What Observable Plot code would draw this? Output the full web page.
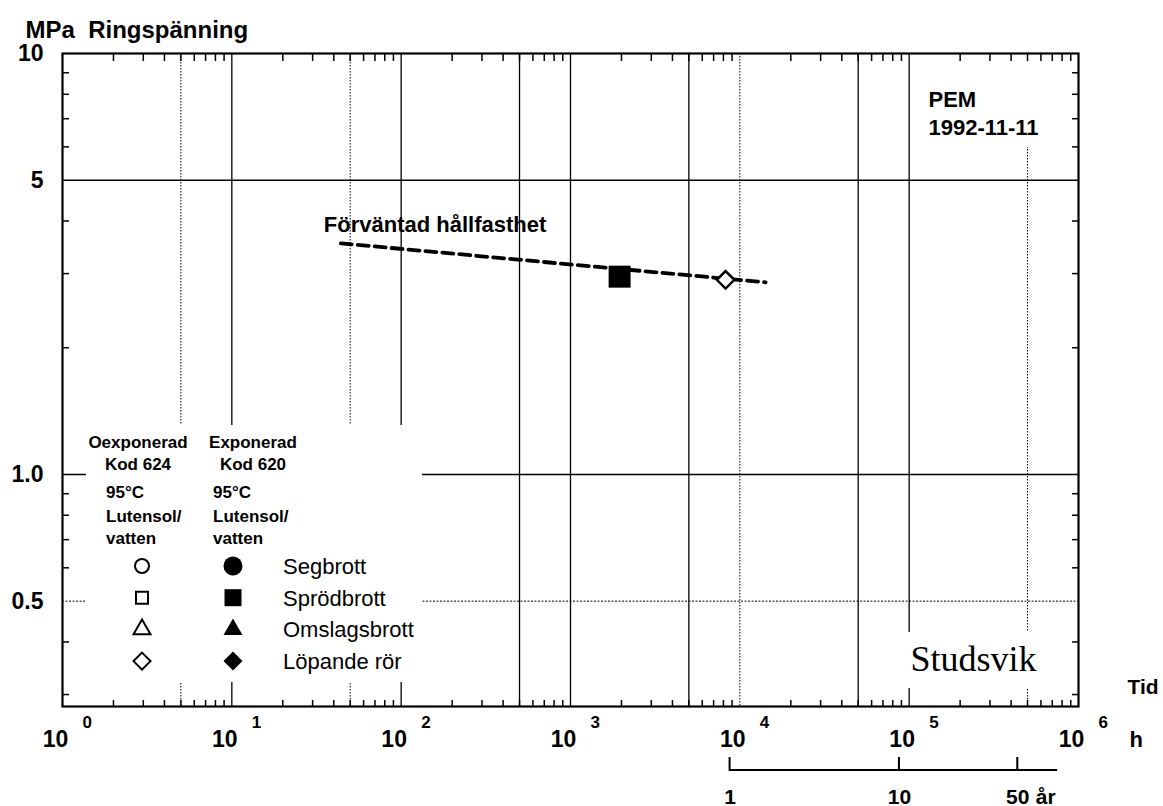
<!DOCTYPE html>
<html>
<head>
<meta charset="utf-8">
<script src="https://cdn.jsdelivr.net/npm/d3@7"></script>
<script src="https://cdn.jsdelivr.net/npm/@observablehq/plot@0.6"></script>
<style>
  html, body { margin: 0; padding: 0; background: #fff; }
  #chart svg { display: block; }
</style>
</head>
<body>
<div id="chart"></div>
<script>
// ---------- data ----------
const hoursPerYear = 8760;
// Förväntad hållfasthet (expected strength)
const expectedHours = [44, 14200];
const expectedMPa = [3.54, 2.86];
// measured test points
const pointHours = [1950, 8240];
const pointMPa = [2.95, 2.90];
const pointGroup = ["Exponerad", "Oexponerad"];
const pointFailure = ["Sprödbrott", "Löpande rör"];

// axes / ticks
const xDecades = [1, 10, 100, 1e3, 1e4, 1e5, 1e6];
const xExponents = ["0", "1", "2", "3", "4", "5", "6"];
const xMultiples = [2, 3, 4, 5, 6, 7, 8, 9];
const yTicks = [10, 5, 1, 0.5];
const yTickLabels = ["10", "5", "1.0", "0.5"];
const yMinor = [0.3, 0.4, 0.6, 0.7, 0.8, 0.9, 2, 3, 4, 6, 7, 8, 9];
const gridSolidX = [10, 100, 500, 1000, 5000, 50000, 100000];
const gridDottedX = [5, 50, 10000, 500000];
const gridSolidY = [5, 1];
const gridDottedY = [0.5];
const yearTicks = [1, 10, 50];
const yearAxisEnd = 86; // years, end of the year bar

// texts
const titleText = "MPa  Ringspänning";
const expectedLabel = "Förväntad hållfasthet";
const stampText = "PEM\n1992-11-11";
const logoText = "Studsvik";
const legendHeadOpen = ["Oexponerad", "Kod 624", "95°C", "Lutensol/", "vatten"];
const legendHeadFilled = ["Exponerad", "Kod 620", "95°C", "Lutensol/", "vatten"];
const legendFailures = ["Segbrott", "Sprödbrott", "Omslagsbrott", "Löpande rör"];
const legendSymbols = ["circle", "square", "triangle", "diamond"];

// ---------- derived ----------
const xMinor = xDecades.slice(0, -1).flatMap(d => xMultiples.map(m => m * d));
const expected = expectedHours.map((h, i) => ({h, p: expectedMPa[i]}));
const points = pointHours.map((h, i) => ({h, p: pointMPa[i], group: pointGroup[i], failure: pointFailure[i]}));

const FONT = "Liberation Sans, Arial, Helvetica, sans-serif";
const SERIF = "Liberation Serif, Times New Roman, serif";

// white masks behind legend / stamp / logo (cover grid lines)
function masks(index, scales, values, dim) {
  const L = dim.marginLeft, R = dim.width - dim.marginRight, T = dim.marginTop, B = dim.height - dim.marginBottom;
  const g = d3.create("svg:g").attr("fill", "white").attr("stroke", "none");
  g.append("rect").attr("x", L + 24).attr("y", B - 281).attr("width", 336).attr("height", 257);
  g.append("rect").attr("x", R - 163).attr("y", T + 2).attr("width", 153).attr("height", 92);
  g.append("rect").attr("x", R - 208).attr("y", B - 74).attr("width", 198).attr("height", 56);
  return g.node();
}

const symbolTypes = {circle: d3.symbolCircle, square: d3.symbolSquare, triangle: d3.symbolTriangle, diamond: d3.symbolDiamond2};
const openSizes = {circle: 154, square: 144, triangle: 125, diamond: 184};
const filledSizes = {circle: 283, square: 289, triangle: 156, diamond: 230};

function legend(index, scales, values, dim) {
  const L = dim.marginLeft, B = dim.height - dim.marginBottom;
  const g = d3.create("svg:g").attr("font-family", FONT).attr("fill", "black").attr("text-anchor", "start");
  const head = g.append("g").attr("font-size", 17).attr("font-weight", "bold");
  const cols = [
    {lines: legendHeadOpen, cx: L + 76, sx: L + 44},
    {lines: legendHeadFilled, cx: L + 191, sx: L + 151}
  ];
  const baselines = [B - 258, B - 236, B - 208, B - 184, B - 162];
  cols.forEach(c => {
    c.lines.forEach((t, i) => {
      head.append("text")
        .attr("x", i < 2 ? c.cx : c.sx)
        .attr("y", baselines[i])
        .attr("text-anchor", i < 2 ? "middle" : "start")
        .text(t);
    });
  });
  const openX = L + 80, filledX = L + 171, labelX = L + 221;
  legendFailures.forEach((f, i) => {
    const cy = B - 140 + i * 31.7;
    const s = legendSymbols[i];
    g.append("path")
      .attr("transform", `translate(${openX},${cy})`)
      .attr("d", d3.symbol(symbolTypes[s], openSizes[s])())
      .attr("fill", "white").attr("stroke", "black").attr("stroke-width", 2);
    g.append("path")
      .attr("transform", `translate(${filledX},${cy})`)
      .attr("d", d3.symbol(symbolTypes[s], filledSizes[s])())
      .attr("fill", "black");
    g.append("text")
      .attr("x", labelX).attr("y", cy + 8)
      .attr("text-anchor", "start")
      .attr("font-size", 22)
      .text(f);
  });
  return g.node();
}

function yearAxis(index, scales, values, dim) {
  const B = dim.height - dim.marginBottom;
  const yb = B + 64;
  const xs = yearTicks.map(y => scales.x(y * hoursPerYear));
  const xe = scales.x(yearAxisEnd * hoursPerYear);
  const g = d3.create("svg:g").attr("stroke", "black").attr("stroke-width", 2).attr("fill", "none");
  g.append("path").attr("d", `M${xs[0]},${yb - 13}V${yb}H${xe}`);
  xs.slice(1).forEach(x => g.append("path").attr("d", `M${x},${yb}V${yb - 13}`));
  return g.node();
}

const plot = Plot.plot({
  width: 1163,
  height: 806,
  marginLeft: 62,
  marginRight: 85,
  marginTop: 53,
  marginBottom: 100,
  style: {fontFamily: FONT, background: "white", color: "black"},
  x: {type: "log", domain: [1, 1e6], label: null},
  y: {type: "log", domain: [0.281, 10], label: null},
  marks: [
    // grid
    Plot.ruleX(gridSolidX, {stroke: "black", strokeWidth: 1.3}),
    Plot.ruleX(gridDottedX, {stroke: "black", strokeWidth: 1, strokeDasharray: "1.5,1.5"}),
    Plot.ruleY(gridSolidY, {stroke: "black", strokeWidth: 1.4}),
    Plot.ruleY(gridDottedY, {stroke: "black", strokeWidth: 1, strokeDasharray: "2,1.5"}),
    masks,
    // inward minor ticks
    Plot.axisX(xMinor, {anchor: "bottom", tickSize: -6, fill: "none", label: null, strokeWidth: 1.5}),
    Plot.axisX(xMinor, {anchor: "top", tickSize: -7, fill: "none", label: null, strokeWidth: 1.5}),
    Plot.axisY(yMinor, {anchor: "left", tickSize: -7, fill: "none", label: null, strokeWidth: 1.5}),
    Plot.axisY(yMinor, {anchor: "right", tickSize: -7, fill: "none", label: null, strokeWidth: 1.5}),
    Plot.frame({stroke: "black", strokeWidth: 2.2}),
    // tick labels
    Plot.text(yTicks, {y: d => d, frameAnchor: "left", textAnchor: "end", dx: -19, text: (d, i) => yTickLabels[i], fontSize: 23, fontWeight: "bold"}),
    Plot.text(xDecades, {x: d => d, frameAnchor: "bottom", text: () => "10", dx: -7, dy: 40, lineAnchor: "bottom", fontSize: 23, fontWeight: "bold"}),
    Plot.text(xDecades, {x: d => d, frameAnchor: "bottom", text: (d, i) => xExponents[i], textAnchor: "start", dx: 20, dy: 21, lineAnchor: "bottom", fontSize: 17, fontWeight: "bold"}),
    Plot.text(["Tid"], {frameAnchor: "bottom-right", text: d => d, textAnchor: "start", dx: 49, dy: -13, lineAnchor: "bottom", fontSize: 21, fontWeight: "bold"}),
    Plot.text(["h"], {frameAnchor: "bottom-right", text: d => d, textAnchor: "start", dx: 51, dy: 40, lineAnchor: "bottom", fontSize: 22, fontWeight: "bold"}),
    Plot.text([titleText], {frameAnchor: "top-left", text: d => d, textAnchor: "start", dx: -37, dy: -16, lineAnchor: "bottom", fontSize: 24, fontWeight: "bold", style: "letter-spacing:1px"}),
    // expected strength line
    Plot.line(expected, {x: "h", y: "p", stroke: "black", strokeWidth: 3.8, strokeDasharray: "11,6"}),
    Plot.text(expected.slice(0, 1), {x: "h", y: "p", text: () => expectedLabel, textAnchor: "start", dx: -17, dy: -11, lineAnchor: "bottom", fontSize: 22, fontWeight: "bold"}),
    // measured points
    Plot.dot(points.filter(d => d.group === "Exponerad"), {x: "h", y: "p", symbol: "square", r: 12.4, fill: "black", stroke: "none"}),
    Plot.dot(points.filter(d => d.group === "Oexponerad"), {x: "h", y: "p", symbol: "diamond2", r: 7.9, fill: "white", stroke: "black", strokeWidth: 2.5}),
    // annotations
    Plot.text([stampText], {frameAnchor: "top-right", text: d => d, textAnchor: "start", dx: -150, dy: 34, lineAnchor: "top", lineHeight: 1.27, fontSize: 22, fontWeight: "bold"}),
    Plot.text([logoText], {frameAnchor: "bottom-right", text: d => d, textAnchor: "start", dx: -168, dy: -36, lineAnchor: "bottom", fontSize: 36, fontFamily: SERIF, fill: "black"}),
    legend,
    // year axis
    yearAxis,
    Plot.text(yearTicks, {x: d => d * hoursPerYear, frameAnchor: "bottom", text: d => String(d), dy: 97, lineAnchor: "bottom", fontSize: 21, fontWeight: "bold"}),
    Plot.text(yearTicks.slice(-1), {x: d => d * hoursPerYear, frameAnchor: "bottom", text: () => "år", textAnchor: "start", dx: 18, dy: 97, lineAnchor: "bottom", fontSize: 21, fontWeight: "bold"})
  ]
});
document.getElementById("chart").appendChild(plot);
</script>
</body>
</html>
